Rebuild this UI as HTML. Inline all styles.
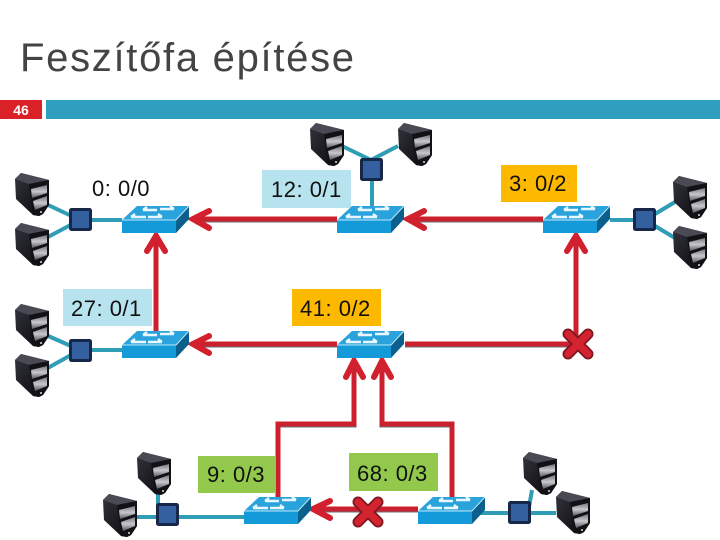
<!DOCTYPE html>
<html><head><meta charset="utf-8"><style>
html,body{margin:0;padding:0;background:#fff}
svg{display:block}
text{font-family:"Liberation Sans",sans-serif}
.l{font-size:22px;fill:#111;letter-spacing:.5px}
</style></head><body>
<svg width="720" height="540" viewBox="0 0 720 540" xmlns="http://www.w3.org/2000/svg">
<defs>
<linearGradient id="sv" x1="0" y1="0" x2="1" y2="1"><stop offset="0" stop-color="#34343e"/><stop offset="1" stop-color="#050508"/></linearGradient>
<linearGradient id="bay" x1="0" y1="0" x2="0" y2="1"><stop offset="0" stop-color="#77777f"/><stop offset=".5" stop-color="#c8c8cd"/><stop offset="1" stop-color="#55555e"/></linearGradient>
<g id="srv">
<polygon points="0,6 6,0 34,7 34,32 28,41 24,43 18,42 1,26" fill="url(#sv)"/>
<polygon points="0,6 6,0 34,7 14,11" fill="#4a4a55"/>
<polygon points="14,11 34,7 34,32 28,41 24,43 18,42" fill="#111116"/>
<polygon points="16,16 32,12 32,20 17,25" fill="url(#bay)"/>
<polygon points="18,28 32,23 32,32 20,37" fill="url(#bay)"/>
<circle cx="26" cy="39" r="1" fill="#ddd"/>
</g>
<g id="sw">
<polygon points="0,14 15,0 67,0 54,14" fill="#2aa3dc"/>
<polygon points="0,14 54,14 54,27 0,27" fill="#149ad8"/>
<polygon points="54,14 67,0 67,13 54,27" fill="#0a5f8c"/>
<path d="M0,14H54L67,0" stroke="#bfe8f8" stroke-width="1" fill="none"/>
<path d="M9,11h15M9,11l4-3M38,3h14M52,3l-4,-3M21,4h14M21,4l4-3M26,11h14M40,11l-4,-3" stroke="#e8f7fd" stroke-width="2.4" fill="none"/>
</g>
<g id="x"><path d="M-10,-10 L10,10 M10,-10 L-10,10" stroke="#7c1720" stroke-width="11" stroke-linecap="round"/><path d="M-10,-10 L10,10 M10,-10 L-10,10" stroke="#d2232f" stroke-width="7.5" stroke-linecap="round"/></g>
<g id="sq"><rect x="1.5" y="1.5" width="20" height="20" rx="1" fill="#34609f" stroke="#16274a" stroke-width="3"/></g>
</defs>

<text x="20" y="71" font-size="40" fill="#444" letter-spacing="1.7">Feszítőfa építése</text>
<rect x="0" y="100" width="42" height="19" fill="#da2128"/>
<rect x="46" y="100" width="674" height="19" fill="#2e9fbe"/>
<text x="21" y="115" font-size="14" font-weight="bold" fill="#fff" text-anchor="middle">46</text>

<!-- labels -->
<rect x="262" y="170" width="89" height="38" fill="#b7e3ef"/>
<rect x="501" y="165" width="76" height="37" fill="#fdb900"/>
<rect x="63" y="289" width="89" height="37" fill="#b7e3ef"/>
<rect x="292" y="289" width="89" height="37" fill="#fdb900"/>
<rect x="198" y="456" width="77" height="37" fill="#92c84b"/>
<rect x="349" y="453" width="89" height="38" fill="#92c84b"/>
<text class="l" x="92" y="196">0: 0/0</text>
<text class="l" x="271" y="197">12: 0/1</text>
<text class="l" x="509" y="191">3: 0/2</text>
<text class="l" x="71" y="316">27: 0/1</text>
<text class="l" x="300" y="316">41: 0/2</text>
<text class="l" x="207" y="482">9: 0/3</text>
<text class="l" x="357" y="481">68: 0/3</text>

<!-- teal links -->
<g stroke="#2f9db5" stroke-width="4" fill="none">
<path d="M46,204L80,220L46,238M80,220H122"/>
<path d="M46,335L80,350L46,369M80,350H122"/>
<path d="M342,146L371,160L398,146M372,170V207"/>
<path d="M675,202L645,220L675,238M645,220H610"/>
<path d="M158,492V515M128,517H245"/>
<path d="M532,490L528,513M480,513H556"/>
</g>

<!-- red links -->
<g fill="none" stroke-linejoin="miter">
<g stroke="#66707e" stroke-width="5" transform="translate(0,1)">
<path d="M337,219H195M543,219H410M337,344H195M405,344H578M418,509H315"/>
<path d="M156,331V240M576,345V240M278,497V424H354V362M452,497V424H382V362"/>
</g>
<g stroke="#cc202e" stroke-width="5">
<path d="M337,219H195M543,219H410M337,344H195M405,344H578M418,509H315"/>
<path d="M156,331V240M576,345V240M278,497V424H354V362M452,497V424H382V362"/>
</g>
<g stroke="#d2202e" stroke-width="6" stroke-linecap="round">
<path d="M209,211L193,219L209,228M424,211L408,219L424,228M209,336L193,344L209,353M330,501L313,509L330,518"/>
<path d="M147,251L156,236L165,251M567,251L576,236L585,251M346,377L354,361L363,377M374,377L382,361L391,377"/>
</g>
</g>

<!-- switches -->
<use href="#sw" x="122" y="206"/>
<use href="#sw" x="337" y="206"/>
<use href="#sw" x="543" y="206"/>
<use href="#sw" x="122" y="331"/>
<use href="#sw" x="337" y="331"/>
<use href="#sw" x="244" y="497"/>
<use href="#sw" x="418" y="497"/>

<!-- hubs -->
<use href="#sq" x="69" y="208"/>
<use href="#sq" x="69" y="339"/>
<use href="#sq" x="360" y="158"/>
<use href="#sq" x="633" y="208"/>
<use href="#sq" x="156" y="503"/>
<use href="#sq" x="508" y="501"/>

<!-- servers -->
<use href="#srv" x="15" y="173"/>
<use href="#srv" x="15" y="223"/>
<use href="#srv" x="15" y="304"/>
<use href="#srv" x="15" y="354"/>
<use href="#srv" x="310" y="123"/>
<use href="#srv" x="398" y="123"/>
<use href="#srv" x="673" y="176"/>
<use href="#srv" x="673" y="226"/>
<use href="#srv" x="137" y="452"/>
<use href="#srv" x="103" y="494"/>
<use href="#srv" x="523" y="452"/>
<use href="#srv" x="556" y="491"/>

<use href="#x" x="578" y="344"/>
<use href="#x" x="368" y="512"/>
</svg>
</body></html>
